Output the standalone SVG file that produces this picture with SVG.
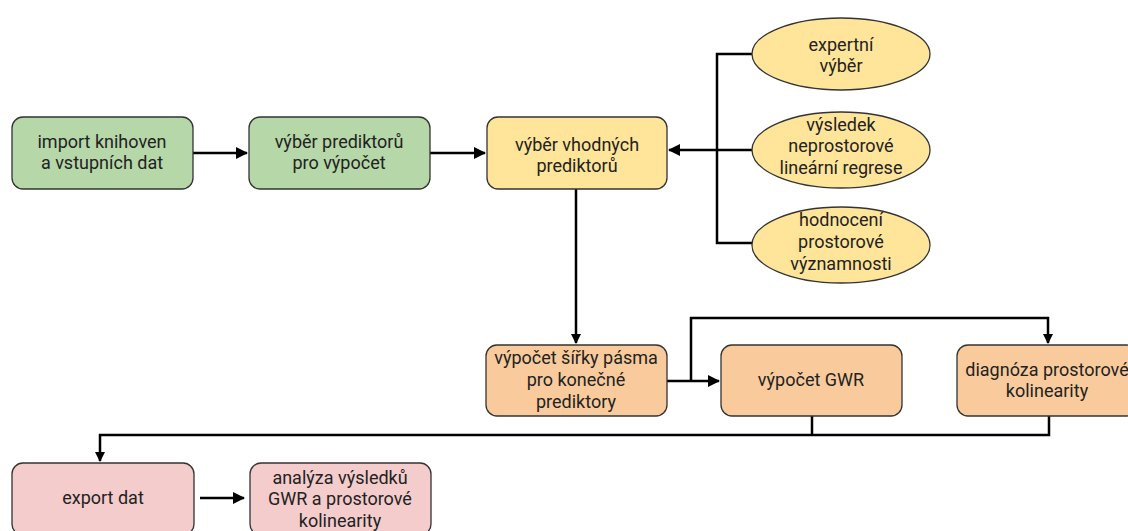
<svg xmlns="http://www.w3.org/2000/svg" width="1128" height="531" viewBox="0 0 1128 531">
<defs>
<marker id="ah" markerWidth="10" markerHeight="10" refX="9" refY="5" orient="auto" markerUnits="userSpaceOnUse">
<path d="M0,0 L10,5 L0,10 Z" fill="#000"/>
</marker>
<marker id="ahs" markerWidth="12" markerHeight="12" refX="11" refY="6" orient="auto" markerUnits="userSpaceOnUse">
<path d="M0,0 L12,6 L0,12 Z" fill="#000"/>
</marker>
<style>
.n{stroke:#333;stroke-width:1.3}
.g{fill:#b6d7a8}.y{fill:#ffe599}.o{fill:#f9cb9c}.p{fill:#f4cccc}
text{font-family:Roboto,"Liberation Sans",sans-serif;font-size:18px;fill:#222;text-anchor:middle}
.c{fill:none;stroke:#000;stroke-width:2.5}
</style>
</defs>
<rect width="1128" height="531" fill="#fff"/>
<g id="connectors">
<path class="c" d="M193,153 H247" marker-end="url(#ahs)"/>
<path class="c" d="M430,153 H485" marker-end="url(#ahs)"/>
<path class="c" d="M752,54 H717 V243 H752"/>
<path class="c" d="M752,150 H669" marker-end="url(#ahs)"/>
<path class="c" d="M576,189 V343" marker-end="url(#ah)"/>
<path class="c" d="M667,381 H719" marker-end="url(#ahs)"/>
<path class="c" d="M691,381 V318 H1048 V343" marker-end="url(#ah)"/>
<path class="c" d="M812,416 V435 M1049,416 V435 H100 V461" marker-end="url(#ah)"/>
<path class="c" d="M200,498 H244" marker-end="url(#ahs)"/>
</g>
<g id="n1"><rect class="n g" x="12" y="117" width="181" height="72" rx="11"/><text x="102" y="148">import knihoven</text><text x="102" y="169">a vstupních dat</text></g>
<g id="n2"><rect class="n g" x="249" y="117" width="181" height="72" rx="11"/><text x="339" y="148">výběr prediktorů</text><text x="339" y="169">pro výpočet</text></g>
<g id="n3"><rect class="n y" x="487" y="117" width="180" height="72" rx="11"/><text x="577" y="151">výběr vhodných</text><text x="577" y="172">prediktorů</text></g>
<g id="e1"><ellipse class="n y" cx="841" cy="54" rx="89" ry="36"/><text x="841" y="51">expertní</text><text x="841" y="72">výběr</text></g>
<g id="e2"><ellipse class="n y" cx="841" cy="150" rx="89" ry="38"/><text x="841" y="131">výsledek</text><text x="841" y="152">neprostorové</text><text x="841" y="174">lineární regrese</text></g>
<g id="e3"><ellipse class="n y" cx="841" cy="245" rx="89" ry="38"/><text x="841" y="226">hodnocení</text><text x="841" y="248">prostorové</text><text x="841" y="270">významnosti</text></g>
<g id="n4"><rect class="n o" x="486" y="345" width="181" height="71" rx="11"/><text x="576" y="364">výpočet šířky pásma</text><text x="576" y="386">pro konečné</text><text x="576" y="408">prediktory</text></g>
<g id="n5"><rect class="n o" x="721" y="345" width="181" height="71" rx="11"/><text x="811" y="386">výpočet GWR</text></g>
<g id="n6"><rect class="n o" x="957" y="345" width="181" height="71" rx="11"/><text x="1047" y="376">diagnóza prostorové</text><text x="1047" y="397">kolinearity</text></g>
<g id="n7"><rect class="n p" x="12" y="463" width="182" height="72" rx="11"/><text x="103" y="504">export dat</text></g>
<g id="n8"><rect class="n p" x="250" y="463" width="181" height="72" rx="11"/><text x="340" y="484">analýza výsledků</text><text x="340" y="505">GWR a prostorové</text><text x="340" y="527">kolinearity</text></g>
</svg>
